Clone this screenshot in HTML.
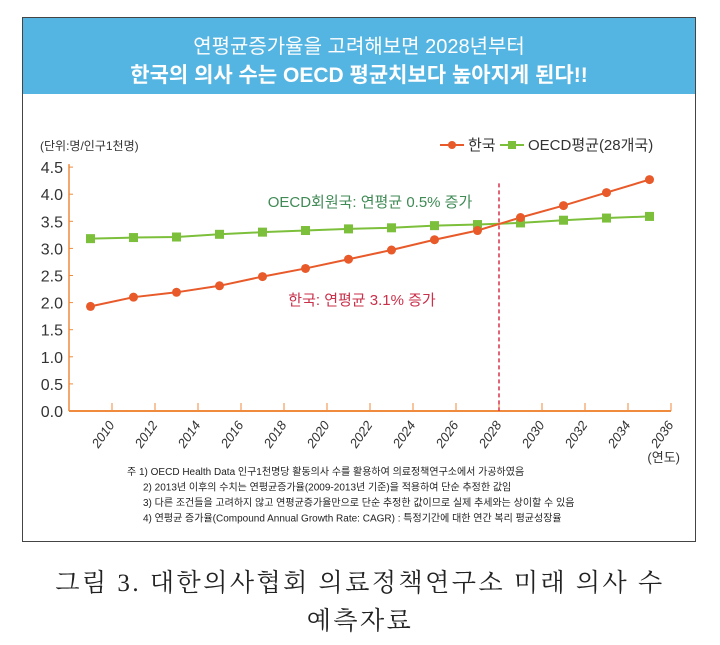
<!DOCTYPE html>
<html><head><meta charset="utf-8">
<style>
body{margin:0;width:720px;height:645px;background:#fff;font-family:"Liberation Sans","Noto Sans CJK KR",sans-serif;overflow:hidden}
#frame{position:absolute;left:22px;top:17px;width:674px;height:525px;border:1.5px solid #444;box-sizing:border-box}
#band{position:absolute;left:0;top:0;right:0;height:76px;background:#55b5e2;color:#fff;text-align:center}
.t1{position:absolute;left:0;right:0;top:12px;font-size:20px}
.t2{position:absolute;left:0;right:0;top:41px;font-size:21px;font-weight:bold}
.cap{position:absolute;left:0;width:720px;text-align:center;font-family:"Liberation Serif","Noto Serif CJK SC",serif;font-size:25px;letter-spacing:2.5px;color:#222}
</style></head><body>
<div id="frame">
 <div id="band">
  <div class="t1">연평균증가율을 고려해보면 2028년부터</div>
  <div class="t2">한국의 의사 수는 OECD 평균치보다 높아지게 된다!!</div>
 </div>
</div>
<svg id="chart" width="720" height="645" style="position:absolute;left:0;top:0"></svg>
<div class="cap" style="top:563px">그림 3. 대한의사협회 의료정책연구소 미래 의사 수</div>
<div class="cap" style="top:601px">예측자료</div>
<script>
const years=[2009,2011,2013,2015,2017,2019,2021,2023,2025,2027,2029,2031,2033,2035];
const korea=[1.93,2.10,2.19,2.31,2.48,2.63,2.80,2.97,3.16,3.33,3.57,3.79,4.03,4.27];
const oecd=[3.18,3.20,3.21,3.26,3.30,3.33,3.36,3.38,3.42,3.44,3.47,3.52,3.56,3.59];
const yTicks=[0,0.5,1,1.5,2,2.5,3,3.5,4,4.5];
const xTicks=[2010,2012,2014,2016,2018,2020,2022,2024,2026,2028,2030,2032,2034,2036];
const notes=["주 1) OECD Health Data 인구1천명당 활동의사 수를 활용하여 의료정책연구소에서 가공하였음","2) 2013년 이후의 수치는 연평균증가율(2009-2013년 기준)을 적용하여 단순 추정한 값임","3) 다른 조건들을 고려하지 않고 연평균증가율만으로 단순 추정한 값이므로 실제 추세와는 상이할 수 있음","4) 연평균 증가율(Compound Annual Growth Rate: CAGR) : 특정기간에 대한 연간 복리 평균성장율"];
const svg=document.getElementById('chart');const NS='http://www.w3.org/2000/svg';
const X=v=>69+(v-2008)*21.5;const Y=v=>411-v*54.2;
function mk(t,a,txt){const e=document.createElementNS(NS,t);for(const k in a)e.setAttribute(k,a[k]);if(txt!==undefined)e.textContent=txt;svg.appendChild(e);return e;}
let e;
e=mk('line',{x1:X(2008),y1:Y(4.5)-3,x2:X(2008),y2:Y(0),stroke:'#f08a3c','stroke-width':1.5});

e=mk('line',{x1:X(2008),y1:Y(0),x2:X(2036),y2:Y(0),stroke:'#f08a3c','stroke-width':2});

yTicks.forEach(v=>{
 e=mk('line',{x1:X(2008),y1:Y(v),x2:X(2008)+4,y2:Y(v),stroke:'#f08a3c','stroke-width':1});
 
 e=mk('text',{x:X(2008)-6,y:Y(v)+6,'text-anchor':'end','font-size':16,fill:'#333'},v.toFixed(1));
 
});
xTicks.forEach(v=>{
 e=mk('line',{x1:X(v),y1:Y(0),x2:X(v),y2:Y(0)-8,stroke:'#f08a3c','stroke-width':1});
 
 e=mk('text',{x:X(v)+3,y:Y(0)+14,'text-anchor':'end','font-size':13,'font-style':'italic',fill:'#333',transform:`rotate(-55 ${X(v)+3} ${Y(0)+14})`},v);
 
});
e=mk('text',{x:680,y:462,'text-anchor':'end','font-size':13,fill:'#333'},'(연도)');

e=mk('text',{x:40,y:150,'font-size':12,fill:'#333'},'(단위:명/인구1천명)');

e=mk('line',{x1:X(2028),y1:Y(4.2),x2:X(2028),y2:Y(0),stroke:'#d9304a','stroke-width':1.5,'stroke-dasharray':'4,3'});

e=mk('polyline',{points:years.map((y,i)=>X(y)+','+Y(oecd[i])).join(' '),fill:'none',stroke:'#7cbf3a','stroke-width':2});

e=mk('polyline',{points:years.map((y,i)=>X(y)+','+Y(korea[i])).join(' '),fill:'none',stroke:'#e85a2a','stroke-width':2});

years.forEach((y,i)=>{
 e=mk('rect',{x:X(y)-4.5,y:Y(oecd[i])-4.5,width:9,height:9,fill:'#7cbf3a'});
 
 e=mk('circle',{cx:X(y),cy:Y(korea[i]),r:4.5,fill:'#e85a2a'});
 
});
e=mk('text',{x:370,y:207,'text-anchor':'middle','font-size':15,fill:'#3f8a55'},'OECD회원국: 연평균 0.5% 증가');

e=mk('text',{x:362,y:305,'text-anchor':'middle','font-size':15,fill:'#c9304a'},'한국: 연평균 3.1% 증가');

e=mk('line',{x1:440,y1:145,x2:464,y2:145,stroke:'#e85a2a','stroke-width':2});

e=mk('circle',{cx:452,cy:145,r:4,fill:'#e85a2a'});

e=mk('text',{x:468,y:150,'font-size':15,fill:'#333'},'한국');

e=mk('line',{x1:500,y1:145,x2:524,y2:145,stroke:'#7cbf3a','stroke-width':2});

e=mk('rect',{x:508,y:141,width:8,height:8,fill:'#7cbf3a'});

e=mk('text',{x:528,y:150,'font-size':15,fill:'#333'},'OECD평균(28개국)');

notes.forEach((n,i)=>{
 e=mk('text',{x:i==0?127:143,y:475+i*15.5,'font-size':10,fill:'#222'},n);
 
});
</script>
</body></html>
